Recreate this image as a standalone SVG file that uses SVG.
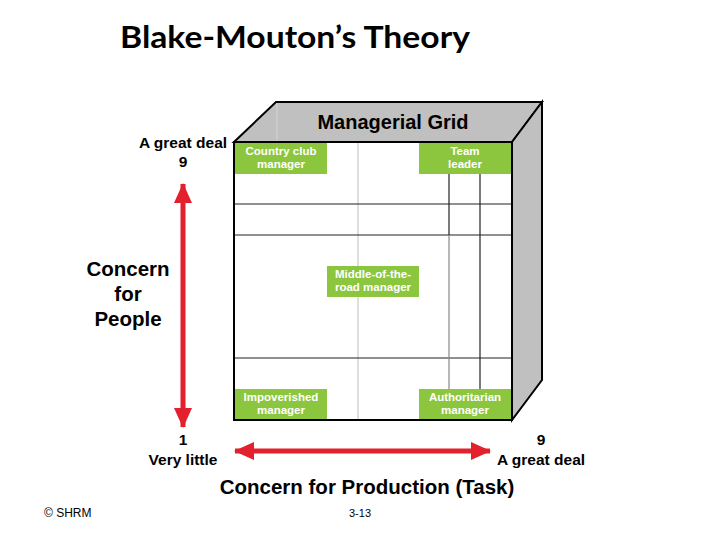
<svg xmlns="http://www.w3.org/2000/svg" width="720" height="540" viewBox="0 0 720 540">
<defs>
<style>
.b{font-family:"Liberation Sans",Arial,sans-serif;font-weight:bold;fill:#000}
.g{fill:#8cc63f}
.gt{font-family:"Liberation Sans",Arial,sans-serif;font-weight:bold;font-size:11.5px;fill:#fff;text-anchor:middle}
.dk{stroke:#222;stroke-width:1.2}
.lt{stroke:#c8c8c8;stroke-width:1.2}
.arr{stroke:#e3202d;stroke-width:5;fill:none}
</style>
<marker id="ah" markerUnits="userSpaceOnUse" markerWidth="20" markerHeight="20" viewBox="0 0 20 20" refX="19" refY="10" orient="auto-start-reverse">
<path d="M0,1 L20,10 L0,19 Z" fill="#e3202d"/>
</marker>
</defs>
<rect width="720" height="540" fill="#fff"/>
<text x="295" y="48" font-family="Lato,'Liberation Sans',sans-serif" font-weight="bold" font-size="30" text-anchor="middle" textLength="350" lengthAdjust="spacingAndGlyphs">Blake-Mouton’s Theory</text>

<g id="cube">
<polygon points="234,142 276,102 542,102 512,142" fill="#c0c0c0" stroke="#000" stroke-width="2"/>
<line x1="277" y1="103" x2="277" y2="141" stroke="#d4d4d4" stroke-width="1"/>
<polygon points="512,142 542,102 542,380 512,420" fill="#c0c0c0" stroke="#000" stroke-width="2"/>
<rect x="234" y="142" width="278" height="278" fill="#fff"/>
<line class="lt" x1="358" y1="142" x2="358" y2="420"/>
<line class="dk" x1="234" y1="204" x2="512" y2="204"/>
<line class="dk" x1="234" y1="235" x2="512" y2="235"/>
<line class="dk" x1="234" y1="358" x2="512" y2="358"/>
<line class="dk" x1="449" y1="174" x2="449" y2="235"/>
<line x1="449" y1="235" x2="449" y2="389" stroke="#888" stroke-width="1.2"/>
<line class="dk" x1="480" y1="174" x2="480" y2="389"/>
<rect x="234" y="142" width="278" height="278" fill="none" stroke="#000" stroke-width="2"/>
<text class="b" x="393" y="129" font-size="20" text-anchor="middle">Managerial Grid</text>
</g>

<g id="country-club">
<rect class="g" x="235" y="143" width="92" height="31"/>
<text class="gt" x="281" y="155">Country club</text>
<text class="gt" x="281" y="168">manager</text>
</g>
<g id="team-leader">
<rect class="g" x="419" y="143" width="92" height="31"/>
<text class="gt" x="465" y="155">Team</text>
<text class="gt" x="465" y="168">leader</text>
</g>
<g id="middle">
<rect class="g" x="327" y="266" width="92" height="31"/>
<text class="gt" x="373" y="278">Middle-of-the-</text>
<text class="gt" x="373" y="291">road manager</text>
</g>
<g id="impoverished">
<rect class="g" x="235" y="389" width="92" height="30"/>
<text class="gt" x="281" y="401">Impoverished</text>
<text class="gt" x="281" y="414">manager</text>
</g>
<g id="authoritarian">
<rect class="g" x="419" y="389" width="92" height="30"/>
<text class="gt" x="465" y="401">Authoritarian</text>
<text class="gt" x="465" y="414">manager</text>
</g>

<g id="connectors">
<line class="arr" x1="183" y1="184" x2="183" y2="427" marker-start="url(#ah)" marker-end="url(#ah)"/>
<line class="arr" x1="235" y1="451" x2="490" y2="451" marker-start="url(#ah)" marker-end="url(#ah)"/>
</g>

<g id="labels">
<text class="b" x="183" y="148" font-size="15.5" text-anchor="middle">A great deal</text>
<text class="b" x="183" y="167" font-size="15.5" text-anchor="middle">9</text>
<text class="b" x="128" y="276" font-size="20.5" text-anchor="middle">Concern</text>
<text class="b" x="128" y="301" font-size="20.5" text-anchor="middle">for</text>
<text class="b" x="128" y="326" font-size="20.5" text-anchor="middle">People</text>
<text class="b" x="183" y="445" font-size="15.5" text-anchor="middle">1</text>
<text class="b" x="183" y="465" font-size="15.5" text-anchor="middle">Very little</text>
<text class="b" x="541" y="445" font-size="15.5" text-anchor="middle">9</text>
<text class="b" x="541" y="465" font-size="15.5" text-anchor="middle">A great deal</text>
<text class="b" x="367" y="494" font-size="20.5" text-anchor="middle">Concern for Production (Task)</text>
<text x="44" y="517" font-family="'Liberation Sans',Arial,sans-serif" font-size="12">© SHRM</text>
<text x="360" y="517" font-family="'Liberation Sans',Arial,sans-serif" font-size="11" text-anchor="middle">3-13</text>
</g>
</svg>
